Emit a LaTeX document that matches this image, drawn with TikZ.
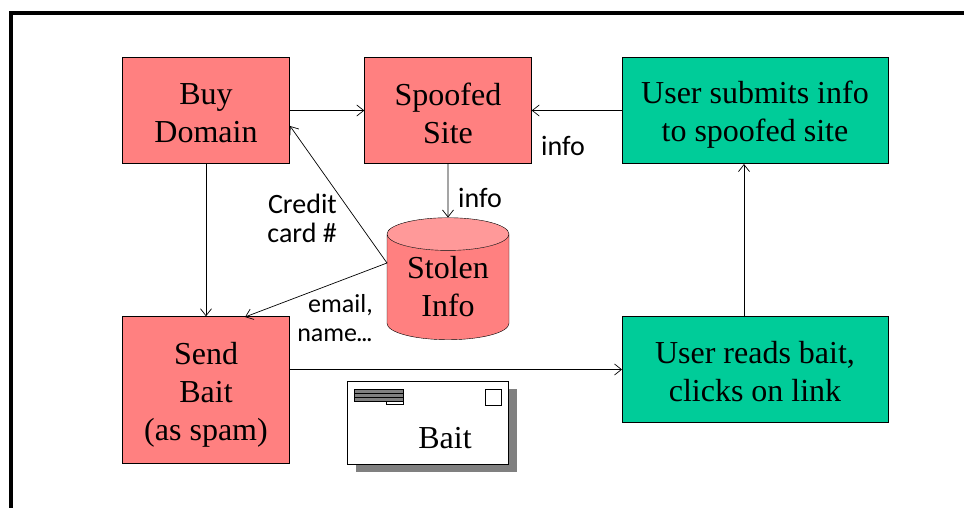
\documentclass[tikz,border=0pt]{standalone}
\usepackage{fontspec}
\setmainfont{Liberation Serif}
\newfontfamily\notefont{Carlito}
\usetikzlibrary{arrows.meta,shapes.geometric}
\definecolor{stepred}{HTML}{FF8080}
\definecolor{steptop}{HTML}{FF9999}
\definecolor{stepgreen}{HTML}{00CC99}
\newcommand{\toppad}[1]{\rule{0pt}{#1}}
\begin{document}
\begin{tikzpicture}[x = 1pt, y = -1pt, >= {Straight Barb[length = 7pt, width = 11pt]},
    every node/.style = {inner sep = 0pt, font = \fontsize{32}{38}\selectfont, align = center},
    redbox/.style = {shape = rectangle, draw, fill = stepred, minimum width = 167pt},
    greenbox/.style = {shape = rectangle, draw, fill = stepgreen, minimum width = 265.5pt, minimum height = 106pt},
    note/.style = {font = \notefont\fontsize{28}{29}\selectfont, align = right, anchor = east},
    link/.style = {->, line width = 0.7pt}]
    \useasboundingbox (0,0) rectangle (964,508);
    \draw[line width = 4pt] (11,508) -- (11,13) -- (964,13);

    \node[redbox, minimum height = 106pt] (buy) at (206,110.5) {\toppad{27pt}Buy\\Domain};
    \node[redbox, minimum height = 106pt] (spoofed) at (448,110.5) {\toppad{28pt}Spoofed\\Site};
    \node[redbox, minimum height = 147pt] (send) at (206,390) {\toppad{31pt}Send\\Bait\\(as spam)};
    \node[greenbox] (submits) at (755,110.5) {\toppad{30pt}User submits info\\to spoofed site};
    \node[greenbox] (reads) at (755,369.5) {\toppad{27pt}User reads bait,\\clicks on link};
    \node[shape = cylinder, shape border rotate = 90, draw, aspect = 0.4, cylinder uses custom fill,
        cylinder body fill = stepred, cylinder end fill = steptop,
        minimum width = 122pt, minimum height = 122pt] (stolen) at (448,287) {Stolen\\Info};
    \coordinate (stolenleft) at (387,263);
    \coordinate (buyport) at (290,126);
    \coordinate (sendport) at (245,317);
    \coordinate (readsport) at (744,317);
    \coordinate (submitsport) at (744,164);

    % envelope
    \fill[gray] (356,389) rectangle (517,472);
    \node[shape = rectangle, draw, fill = white, minimum width = 161pt, minimum height = 83pt] (envelope) at (428,422.5) {};
    \node (bait) at (445,438) {Bait};
    \node[shape = rectangle, draw, minimum width = 16pt, minimum height = 16pt] (stamp) at (493,397) {};
    \foreach \y in {389,393,397}
        \draw[fill = gray] (354,\y) rectangle (403,\y+4);
    \draw (386,401) rectangle (403,404);

    \draw[link] (buy.east) -- (spoofed.west);
    \draw[link] (submits.west) -- (spoofed.east);
    \draw[link] (spoofed.south) -- (stolen.north);
    \draw[link] (buy) -- (send);
    \draw[link] (stolenleft) -- (buyport);
    \draw[link] (stolenleft) -- (sendport);
    \draw[link] (send.east |- reads.west) -- (reads.west);
    \draw[link] (readsport) -- (submitsport);

    \node[note] (infoa) at (585,146) {info};
    \node[note] (infob) at (502,198) {info};
    \node[note] (credit) at (337,218) {Credit\\card \#};
    \node[note, font = \notefont\fontsize{26}{29}\selectfont] (email) at (373,318) {email,\\name\kern-1pt.\kern-1.5pt.\kern-1.5pt.};
\end{tikzpicture}
\end{document}
